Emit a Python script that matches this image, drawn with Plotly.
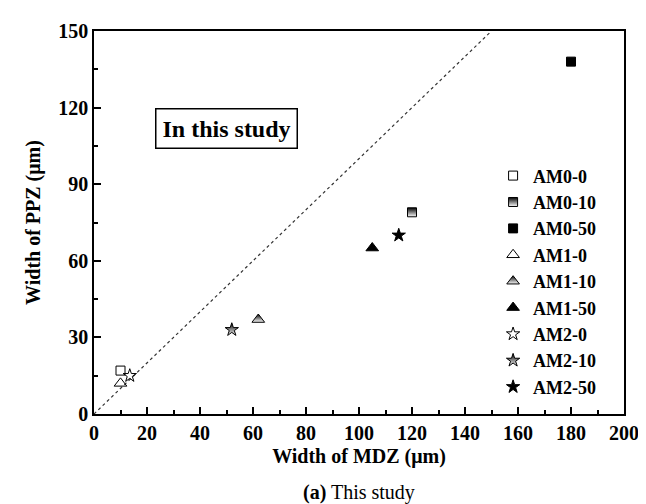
import plotly.graph_objects as go

names = ["AM0-0", "AM0-10", "AM0-50", "AM1-0", "AM1-10", "AM1-50", "AM2-0", "AM2-10", "AM2-50"]
mdz = [10, 120, 180, 10, 62, 105, 13.5, 52, 115]
ppz = [17, 79, 138, 12, 37, 65, 15, 33, 70]
symbols = ["square-open", "square", "square", "triangle-up-open", "triangle-up", "triangle-up",
           "star-open", "star", "star"]
fills = ["open", "half", "full", "open", "half", "full", "open", "half", "full"]
sizes = [9, 9, 9, 11, 11, 11, 10, 10, 10]
diag = [0, 150]

FONT = "Liberation Serif"
fig = go.Figure()

fig.add_trace(go.Scatter(x=diag, y=diag, mode="lines", showlegend=False,
                         line=dict(color="#333333", width=1.2, dash="3px,3px"), hoverinfo="skip"))

for i, n in enumerate(names):
    mk = dict(symbol=symbols[i], size=sizes[i], color="black", line=dict(color="black", width=1))
    if fills[i] == "half":
        mk["color"] = "black"
        mk["gradient"] = dict(type="vertical", color="white")
    fig.add_trace(go.Scatter(x=[mdz[i]], y=[ppz[i]], mode="markers", name="<b>" + n + "</b>",
                             legendgroup=n, marker=mk))

axis_common = dict(showline=True, linecolor="black", linewidth=1.5, mirror=True,
                   ticks="inside", ticklen=7, tickwidth=1.5, tickcolor="black",
                   showgrid=False, zeroline=False,
                   tickfont=dict(family=FONT, size=20, color="black"))

fig.update_xaxes(range=[0, 200], tick0=0, dtick=20,
                 minor=dict(ticks="inside", dtick=10, ticklen=4, tickwidth=1.5, tickcolor="black"),
                 title=dict(text="<b>Width of MDZ (μm)</b>", font=dict(family=FONT, size=20, color="black"),
                            standoff=6),
                 tickprefix="<b>", ticksuffix="</b>", **axis_common)
fig.update_yaxes(range=[0, 150], tick0=0, dtick=30,
                 minor=dict(ticks="inside", dtick=15, ticklen=4, tickwidth=1.5, tickcolor="black"),
                 title=dict(text="<b>Width of PPZ (μm)</b>", font=dict(family=FONT, size=20, color="black"),
                            standoff=12),
                 tickprefix="<b>", ticksuffix="</b>", **axis_common)

fig.add_annotation(x=50, y=111.7, xref="x", yref="y", text="<b>In this study</b>", showarrow=False,
                   font=dict(family=FONT, size=24, color="black"), bordercolor="black", borderwidth=1.5,
                   borderpad=6, bgcolor="white")

fig.add_annotation(x=0.5, y=-0.205, xref="paper", yref="paper", yanchor="middle",
                   text="<b>(a)</b> This study", showarrow=False,
                   font=dict(family=FONT, size=20, color="black"))

fig.update_layout(
    width=646, height=504,
    margin=dict(l=86, r=30, t=16, b=98),
    paper_bgcolor="white", plot_bgcolor="white",
    font=dict(family=FONT, color="black"),
    legend=dict(x=0.753, y=0.67, xanchor="left", yanchor="top", bgcolor="rgba(0,0,0,0)",
                font=dict(family=FONT, size=18, color="black"), tracegroupgap=0,
                itemwidth=30),
)

fig.write_html("out.html")
